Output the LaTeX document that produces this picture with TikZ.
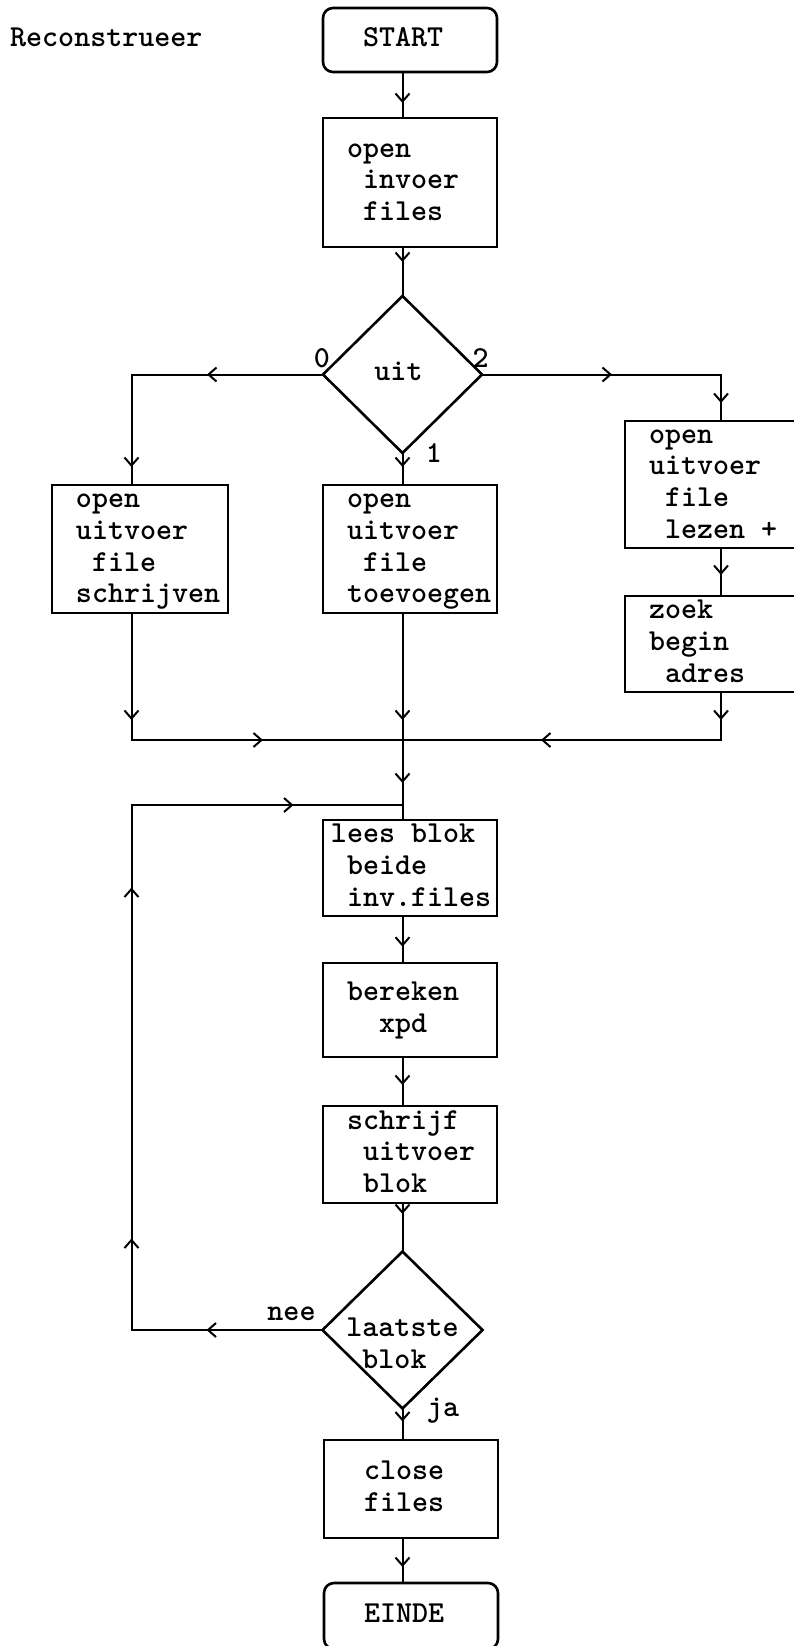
\documentclass[tikz,border=0pt]{standalone}
\usetikzlibrary{shapes.geometric,arrows.meta,decorations.markings}

% one column step forward / backward in the typewriter face
\newcommand\indc{\hphantom{x}}
\newcommand\outc{\hspace*{-0.525em}}
% text of a process box: left aligned, 24pt from the left border
\newcommand\boxlines[2][174pt]{\begin{tabular}{@{\hspace{24pt}}p{\dimexpr#1-24pt\relax}@{}}#2\end{tabular}}
% text of a decision: centred, without widening the diamond
\newcommand\dialines[1]{\makebox[0pt]{\begin{tabular}{@{}l@{}}#1\end{tabular}}}

\tikzset{
  every node/.style={font=\fontsize{30.5}{31.7}\selectfont\ttfamily\bfseries},
  stepbox/.style={draw, rectangle, line width=2.6pt, inner sep=0pt, outer sep=0pt, minimum width=174pt},
  termbox/.style={stepbox, rounded corners=10pt},
  choice/.style={draw, diamond, line width=2.6pt, inner sep=0pt, outer sep=0pt,
                 minimum width=159pt, minimum height=157pt},
  lbl/.style={anchor=base, inner sep=0pt},
  conn/.style={line width=2pt},
  tipat/.style={postaction={decorate, decoration={markings,
      mark=at position #1 with {\arrow[line width=2pt]{Straight Barb[length=8pt,width=14pt]}}}}},
}

\begin{document}
\begin{tikzpicture}[x=1pt,y=-1pt]
\useasboundingbox (0,0) rectangle (793,1646);

% ---- nodes ----
\node[anchor=base west, inner sep=0pt] (title) at (10,47) {Reconstrueer};

\node[termbox, minimum height=64pt] (start) at (410,40) {\boxlines{\indc START}};
\node[stepbox, minimum height=129pt] (oinv) at (410,182.5) {\boxlines{open\\\indc invoer\\\indc files}};
\node[choice] (d1) at (402.5,374.5) {\dialines{uit\hspace*{8pt}}};

\node[stepbox, minimum width=176pt, minimum height=128pt] (lbox) at (140,549)
  {\boxlines[176pt]{open\\uitvoer\\\indc file\\schrijven}};
\node[stepbox, minimum height=128pt] (mbox) at (410,549)
  {\boxlines{open\\uitvoer\\\indc file\\toevoegen}};
\node[stepbox, minimum width=176pt, minimum height=127pt] (rbox1) at (713,484.5)
  {\boxlines[176pt]{open\\uitvoer\\\indc file\\\indc lezen +}};
\node[stepbox, minimum width=176pt, minimum height=96pt] (rbox2) at (713,644)
  {\boxlines[176pt]{zoek\\begin\\\indc adres}};

\node[stepbox, minimum height=96pt] (lees) at (410,868) {\boxlines{\outc lees blok\\beide\\inv.files}};
\node[stepbox, minimum height=94pt] (ber) at (410,1010) {\boxlines{bereken\\\indc\indc xpd}};
\node[stepbox, minimum height=97pt] (schr) at (410,1154.5) {\boxlines{schrijf\\\indc uitvoer\\\indc blok}};
\node[choice, minimum width=160pt] (d2) at (402.5,1330) {\dialines{\\laatste\\\indc blok}};
\node[stepbox, minimum height=98pt] (close) at (411,1489) {\boxlines{\indc close\\\indc files}};
\node[termbox, minimum height=66pt] (einde) at (411,1616) {\boxlines{\indc EINDE}};

% ---- branch labels ----
\node[lbl] (l0) at (322,367) {0};
\node[lbl] (l2) at (480.5,367) {2};
\node[lbl] (l1) at (434,462) {1};
\node[lbl] (nee) at (291.5,1320) {nee};
\node[lbl] (ja) at (443,1416) {ja};

% ---- routing columns and junctions ----
\coordinate (cx) at (402.5,0);
\coordinate (lx) at (131.5,0);
\coordinate (rx) at (721,0);
\coordinate (mj) at (402.5,740);
\coordinate (lj) at (402.5,805);

% ---- connectors ----
\draw[conn, tipat=31pt] (start.south -| cx) -- (oinv.north -| cx);
\draw[conn, tipat=15pt] (oinv.south -| cx) -- (d1.north);
\draw[conn, tipat=116pt, tipat=284pt] (d1.west) -- (d1.west -| lx) -- (lbox.north -| lx);
\draw[conn, tipat=14pt] (d1.south) -- (mbox.north -| d1.south);
\draw[conn, tipat=130pt, tipat=267.5pt] (d1.east) -- (d1.east -| rx) -- (rbox1.north -| rx);
\draw[conn, tipat=27pt] (rbox1.south -| rx) -- (rbox2.north -| rx);

\draw[conn, tipat=107pt, tipat=258.5pt] (lbox.south -| lx) -- (lx |- mj) -- (mj);
\draw[conn, tipat=107pt] (mbox.south -| cx) -- (mj);
\draw[conn, tipat=28pt, tipat=228pt] (rbox2.south -| rx) -- (rx |- mj) -- (mj);
\draw[conn, tipat=43pt] (mj) -- (lees.north -| cx);

\draw[conn, tipat=30.7pt] (lees.south -| cx) -- (ber.north -| cx);
\draw[conn, tipat=28pt] (ber.south -| cx) -- (schr.north -| cx);
\draw[conn, tipat=11pt] (schr.south -| cx) -- (d2.north);
\draw[conn, tipat=116pt, tipat=282.5pt, tipat=633.5pt, tipat=878pt]
  (d2.west) -- (d2.west -| lx) -- (lx |- lj) -- (lj);
\draw[conn, tipat=13pt] (d2.south) -- (close.north -| cx);
\draw[conn, tipat=29pt] (close.south -| cx) -- (einde.north -| cx);
\end{tikzpicture}
\end{document}
